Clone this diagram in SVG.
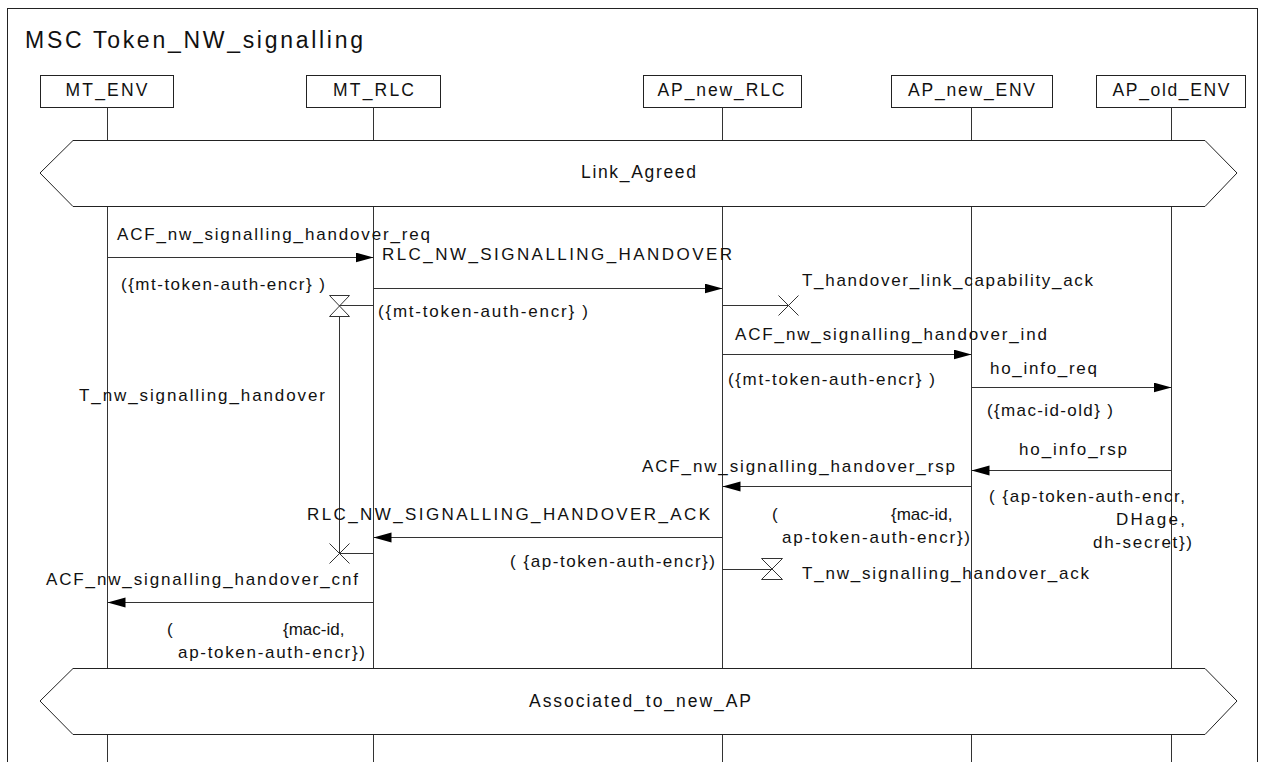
<svg xmlns="http://www.w3.org/2000/svg" width="1266" height="762" viewBox="0 0 1266 762">
<style>
  text { font-family: "Liberation Sans", Arial, sans-serif; fill: #111; }
  .t { font-size: 17px; }
  .h { font-size: 17.5px; }
  .box { fill: #fff; stroke: #222; stroke-width: 1; }
  .ll { stroke: #333; stroke-width: 1; fill: none; }
  .msg { stroke: #333; stroke-width: 1; fill: none; marker-end: url(#arr); }
  .ln { stroke: #333; stroke-width: 1; fill: none; }
  .cond { fill: #fff; stroke: #222; stroke-width: 1; }
</style>
<defs>
  <marker id="arr" markerUnits="userSpaceOnUse" markerWidth="20" markerHeight="12" refX="18" refY="5" orient="auto">
    <path d="M0,0 L18,5 L0,10 z" fill="#000"/>
  </marker>
</defs>
<rect x="0" y="0" width="1266" height="762" fill="#fff"/>
<rect x="7.5" y="8.5" width="1250" height="780" fill="none" stroke="#222"/>
<text x="25" y="48" style="font-size:23px" textLength="338" lengthAdjust="spacing">MSC Token_NW_signalling</text>

<g id="MT_ENV">
  <rect class="box" x="40.5" y="75.5" width="133" height="32"/>
  <text class="h" x="106.5" y="96" text-anchor="middle" textLength="82" lengthAdjust="spacing">MT_ENV</text>
  <path class="ll" d="M107.5,107.5 V140 M107.5,206 V668 M107.5,734 V762"/>
</g>
<g id="MT_RLC">
  <rect class="box" x="306.5" y="75.5" width="134" height="32"/>
  <text class="h" x="373.5" y="96" text-anchor="middle" textLength="81" lengthAdjust="spacing">MT_RLC</text>
  <path class="ll" d="M373.5,107.5 V140 M373.5,206 V668 M373.5,734 V762"/>
</g>
<g id="AP_new_RLC">
  <rect class="box" x="643.5" y="75.5" width="158" height="32"/>
  <text class="h" x="721" y="96" text-anchor="middle" textLength="127" lengthAdjust="spacing">AP_new_RLC</text>
  <path class="ll" d="M722.5,107.5 V140 M722.5,206 V668 M722.5,734 V762"/>
</g>
<g id="AP_new_ENV">
  <rect class="box" x="891.5" y="75.5" width="161" height="32"/>
  <text class="h" x="971.5" y="96" text-anchor="middle" textLength="127" lengthAdjust="spacing">AP_new_ENV</text>
  <path class="ll" d="M971.5,107.5 V140 M971.5,206 V668 M971.5,734 V762"/>
</g>
<g id="AP_old_ENV">
  <rect class="box" x="1096.5" y="75.5" width="149" height="32"/>
  <text class="h" x="1171" y="96" text-anchor="middle" textLength="117" lengthAdjust="spacing">AP_old_ENV</text>
  <path class="ll" d="M1171.5,107.5 V140 M1171.5,206 V668 M1171.5,734 V762"/>
</g>

<g id="Link_Agreed">
  <polygon class="cond" points="40,173 73,140.5 1205,140.5 1237,173 1205,206.5 73,206.5"/>
  <text class="h" x="638.5" y="178" text-anchor="middle" textLength="115" lengthAdjust="spacing">Link_Agreed</text>
</g>
<g id="Associated_to_new_AP">
  <polygon class="cond" points="40,701 73,668.5 1205,668.5 1237,701 1205,734.5 73,734.5"/>
  <text class="h" x="640" y="707" text-anchor="middle" textLength="222" lengthAdjust="spacing">Associated_to_new_AP</text>
</g>

<g id="connectors">
  <line class="msg" x1="107.5" y1="257.5" x2="373.5" y2="257.5"/>
  <text class="t" x="117" y="240" textLength="313" lengthAdjust="spacing">ACF_nw_signalling_handover_req</text>
  <text class="t" x="121" y="290" textLength="204" lengthAdjust="spacing">({mt-token-auth-encr} )</text>

  <line class="msg" x1="373.5" y1="288.5" x2="722.5" y2="288.5"/>
  <text class="t" x="382" y="260" textLength="350" lengthAdjust="spacing">RLC_NW_SIGNALLING_HANDOVER</text>
  <text class="t" x="378" y="317" textLength="210" lengthAdjust="spacing">({mt-token-auth-encr}  )</text>

  <path class="ln" d="M373.5,305.5 H339.5 M329.5,295.5 H349.5 L329.5,316.5 H349.5 Z M339.5,316 V553.5 M339.5,553.5 H373.5 M329.5,543.5 L349.5,563.5 M349.5,543.5 L329.5,563.5"/>
  <text class="t" x="79" y="401" textLength="246" lengthAdjust="spacing">T_nw_signalling_handover</text>

  <path class="ln" d="M722.5,305.5 H788.5 M778.5,295.5 L798.5,315.5 M798.5,295.5 L778.5,315.5"/>
  <text class="t" x="802" y="286" textLength="291" lengthAdjust="spacing">T_handover_link_capability_ack</text>

  <line class="msg" x1="722.5" y1="354.5" x2="971.5" y2="354.5"/>
  <text class="t" x="735" y="340" textLength="312" lengthAdjust="spacing">ACF_nw_signalling_handover_ind</text>
  <text class="t" x="728" y="385" textLength="207" lengthAdjust="spacing">({mt-token-auth-encr} )</text>

  <line class="msg" x1="971.5" y1="387.5" x2="1171.5" y2="387.5"/>
  <text class="t" x="990" y="374" textLength="107" lengthAdjust="spacing">ho_info_req</text>
  <text class="t" x="987" y="416" textLength="126" lengthAdjust="spacing">({mac-id-old} )</text>

  <line class="msg" x1="1171.5" y1="470.5" x2="971.5" y2="470.5"/>
  <text class="t" x="1019" y="455" textLength="108" lengthAdjust="spacing">ho_info_rsp</text>
  <text class="t" x="989" y="502" textLength="196" lengthAdjust="spacing">( {ap-token-auth-encr,</text>
  <text class="t" x="1116" y="525" textLength="69" lengthAdjust="spacing">DHage,</text>
  <text class="t" x="1093" y="548" textLength="99" lengthAdjust="spacing">dh-secret})</text>

  <line class="msg" x1="971.5" y1="486.5" x2="722.5" y2="486.5"/>
  <text class="t" x="642" y="472" textLength="313" lengthAdjust="spacing">ACF_nw_signalling_handover_rsp</text>
  <text class="t" y="520"><tspan x="772">(</tspan><tspan x="891">{mac-id,</tspan></text>
  <text class="t" x="782" y="543" textLength="188" lengthAdjust="spacing">ap-token-auth-encr})</text>

  <line class="msg" x1="722.5" y1="537.5" x2="373.5" y2="537.5"/>
  <text class="t" x="307" y="520" textLength="403" lengthAdjust="spacing">RLC_NW_SIGNALLING_HANDOVER_ACK</text>
  <text class="t" x="510" y="567" textLength="205" lengthAdjust="spacing">( {ap-token-auth-encr})</text>

  <path class="ln" d="M722.5,569.5 H772 M761.5,558.5 H782.5 L761.5,579.5 H782.5 Z"/>
  <text class="t" x="802" y="579" textLength="287" lengthAdjust="spacing">T_nw_signalling_handover_ack</text>

  <line class="msg" x1="373.5" y1="602.5" x2="107.5" y2="602.5"/>
  <text class="t" x="46" y="585" textLength="312" lengthAdjust="spacing">ACF_nw_signalling_handover_cnf</text>
  <text class="t" y="635"><tspan x="167">(</tspan><tspan x="283">{mac-id,</tspan></text>
  <text class="t" x="178" y="658" textLength="187" lengthAdjust="spacing">ap-token-auth-encr})</text>
</g>
</svg>
